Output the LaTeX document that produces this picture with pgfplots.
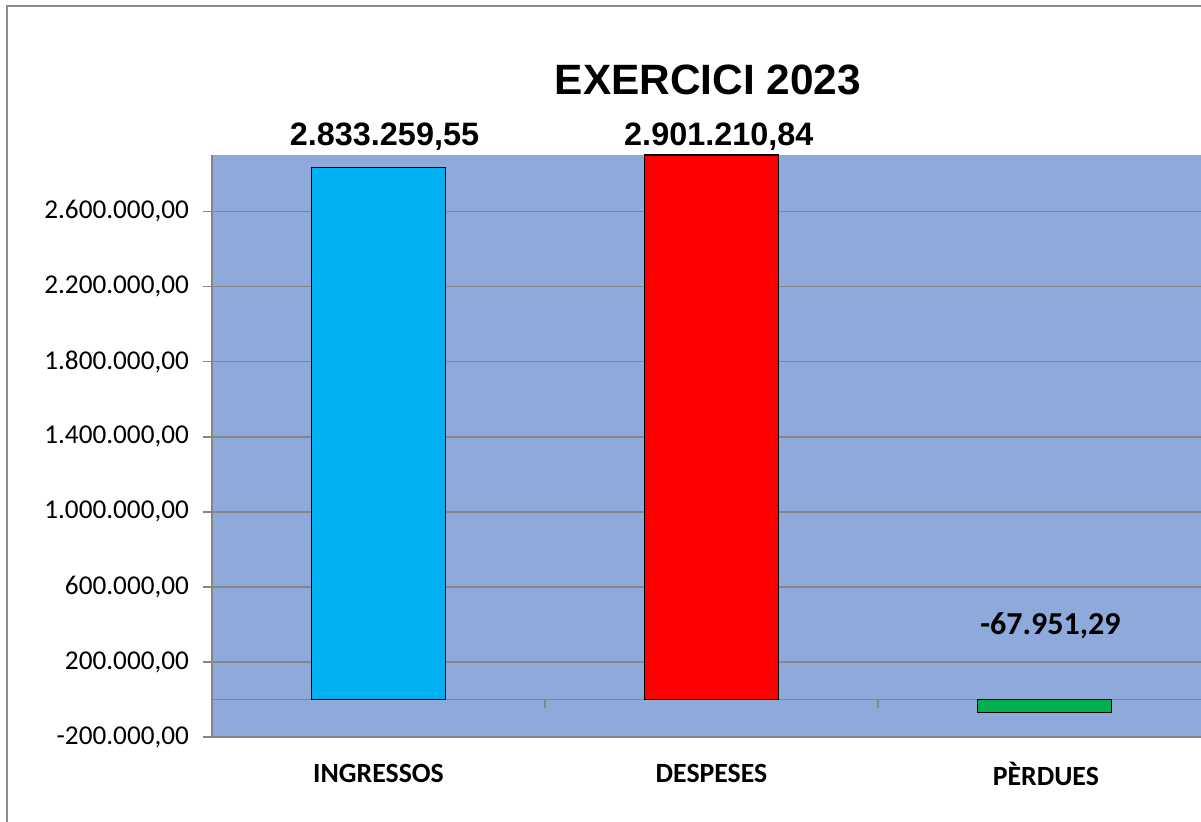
\documentclass[border=0pt]{standalone}
\usepackage{pgfplots}
\pgfplotsset{compat=1.18}
\usepackage{fontspec}
\setmainfont{Carlito}
\newfontfamily\arial{Liberation Sans}
\begin{document}
\begin{tikzpicture}
  \definecolor{plotbg}{HTML}{8EAADB}
  \definecolor{gridc}{HTML}{868686}
  \definecolor{ingr}{HTML}{00B0F0}
  \definecolor{desp}{HTML}{FF0000}
  \definecolor{perd}{HTML}{00B050}
  % page = 1201x821 px at 0.5pt per px
  \useasboundingbox (0,0) rectangle (600.5pt,410.5pt);
  \draw[gray!90, line width=0.8pt] (3.5pt,-2pt) -- (3.5pt,407.5pt) -- (603pt,407.5pt);
  \begin{axis}[
    at={(106pt,42pt)}, anchor=south west,
    scale only axis,
    width=494.5pt, height=291pt,
    clip=false,
    xmin=-0.5, xmax=2.47,
    ymin=-200000, ymax=2901210.84,
    ybar, bar width=67pt, bar shift=0pt,
    axis background/.style={fill=plotbg},
    axis lines=left,
    axis line style={-, draw=gridc, line width=0.8pt},
    xtick=\empty,
    ytick={-200000,200000,600000,1000000,1400000,1800000,2200000,2600000},
    extra y ticks={0},
    extra y tick labels={},
    extra y tick style={major tick length=0pt},
    ymajorgrids=true,
    grid style={draw=gridc, line width=0.8pt},
    tick align=outside,
    major tick length=4.5pt,
    tick style={draw=gridc, line width=0.8pt},
    scaled y ticks=false,
    yticklabel style={font=\fontsize{13.6}{15}\selectfont, text=black, xshift=-3.5pt,
      /pgf/number format/.cd, fixed, fixed zerofill, precision=2, use comma, 1000 sep={.},
      assume math mode=true},
  ]
    \addplot[fill=ingr, draw=black, line width=0.6pt] coordinates {(0,2833259.55)};
    \addplot[fill=desp, draw=black, line width=0.6pt] coordinates {(1,2901210.84)};
    \addplot[fill=perd, draw=black, line width=0.6pt] coordinates {(2,-67951.29)};
    % category separators on the zero line
    \draw[gridc, line width=0.8pt] (axis cs:0.5,0) -- ([yshift=-4.5pt]axis cs:0.5,0);
    \draw[gridc, line width=0.8pt] (axis cs:1.5,0) -- ([yshift=-4.5pt]axis cs:1.5,0);
    % value labels
    \node[font=\arial\bfseries\fontsize{16.2}{18}\selectfont] at (axis cs:0.018,3000000) {2.833.259,55};
    \node[font=\arial\bfseries\fontsize{16.2}{18}\selectfont] at (axis cs:1.022,3000000) {2.901.210,84};
    \node[font=\bfseries\fontsize{16}{17}\selectfont] at (axis cs:2.018,394667) {-67.951,29};
    % category labels
    \node[font=\bfseries\fontsize{13.9}{15}\selectfont] at (axis cs:0.0,-394667) {INGRESSOS};
    \node[font=\bfseries\fontsize{13.9}{15}\selectfont] at (axis cs:1.0,-394667) {DESPESES};
    \node[font=\bfseries\fontsize{13.9}{15}\selectfont] at (axis cs:2.004,-394667) {PÈRDUES};
  \end{axis}
  \node[font=\arial\bfseries\fontsize{21.2}{24}\selectfont] at (354pt,370.5pt) {EXERCICI 2023};
\end{tikzpicture}
\end{document}
